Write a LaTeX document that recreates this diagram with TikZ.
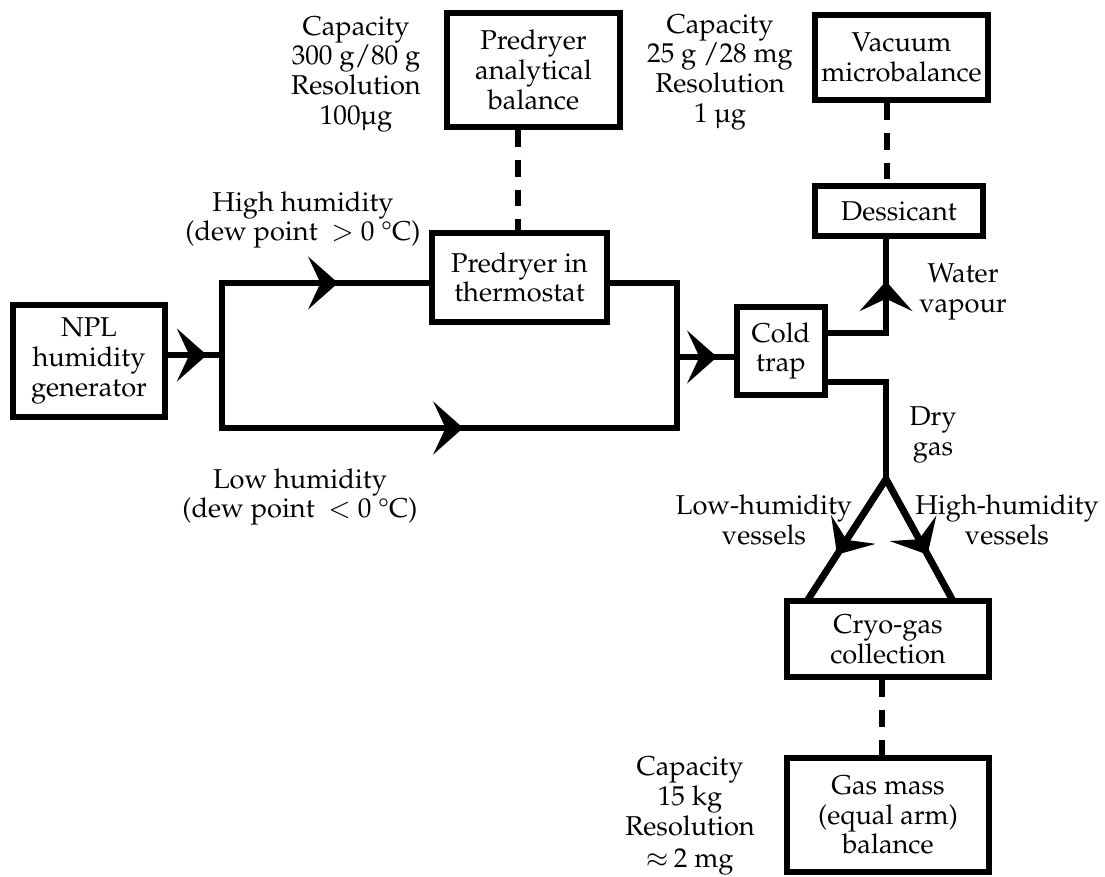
\documentclass[tikz,border=0pt]{standalone}
\usepackage[T1]{fontenc}
\usepackage{mathpazo}
\usetikzlibrary{arrows.meta,decorations.markings}
\begin{document}
\begin{tikzpicture}[x=0.02cm,y=-0.02cm,
  every node/.style={font=\fontsize{15.5}{16.9}\selectfont, inner sep=0pt, align=center},
  box/.style={draw, line width=3.2pt},
  flow/.style={line width=3.2pt, line cap=rect},
  tri/.style={line width=3.8pt},
  dashline/.style={line width=2.9pt, dash pattern=on 9.6pt off 7.4pt},
  midarrow/.style={postaction={decorate}, decoration={markings,
      mark=at position #1 with {\arrow{Stealth[length=17pt,width=30pt,inset=7pt]}}}}]
\useasboundingbox (0,0) rectangle (1105,876);

% boxes
\node[box, minimum width=3.04cm, minimum height=2.24cm] (npl) at (89,361) {NPL\\humidity\\generator};
\node[box, minimum width=3.46cm, minimum height=2.28cm] (anal) at (533.5,70) {Predryer\\analytical\\balance};
\node[box, minimum width=3.5cm, minimum height=1.78cm] (thermo) at (519.5,277.5) {Predryer in\\thermostat};
\node[box, minimum width=1.76cm, minimum height=1.76cm] (cold) at (781,351) {Cold\\trap};
\node[box, minimum width=3.46cm, minimum height=1.7cm] (vac) at (901.5,57.5) {Vacuum\\microbalance};
\node[box, minimum width=3.36cm, minimum height=1.0cm] (dess) at (899,211) {Dessicant};
\node[box, minimum width=4.04cm, minimum height=1.52cm] (cryo) at (888,639) {Cryo-gas\\collection};
\node[box, minimum width=4.04cm, minimum height=2.28cm] (gas) at (888,815) {Gas mass\\(equal arm)\\balance};

% labels
\node (capL) at (356,74) {Capacity\\300 g/80 g\\Resolution\\100\textmu g};
\node (capR) at (720,72) {Capacity\\25 g /28 mg\\Resolution\\1 \textmu g};
\node (capB) at (690,816) {Capacity\\15 kg\\Resolution\\[1.5pt]$\approx$\,2 mg};
\node (high) at (303,220) {High humidity\\(dew point~~$>$ 0 \textdegree C)};
\node (low) at (300,497) {Low humidity\\(dew point~~$<$ 0 \textdegree C)};
\node (water) at (963,292) {Water\\vapour};
\node (dry) at (933,435) {Dry\\gas};
\node (lowv) at (764,520) {Low-humidity\\vessels};
\node (highv) at (1007,520) {High-humidity\\vessels};

% coordinates
\coordinate (j) at (222,355);
\coordinate (jt) at (222,283);
\coordinate (jb) at (222,428);
\coordinate (mt) at (677,283);
\coordinate (mb) at (677,428);
\coordinate (mm) at (677,357);
\coordinate (wv) at (886,333);
\coordinate (dg) at (886,382);
\coordinate (apex) at (886,479);
\coordinate (tl) at (807,601);
\coordinate (tr) at (953,601);
\coordinate (dA) at (518,0);
\coordinate (dV) at (887,0);
\coordinate (dC) at (882,0);

% flow lines
\draw[flow, midarrow=0.72] (npl.east |- j) -- (j);
\draw[flow] (jt) -- (jb);
\draw[flow, midarrow=0.56] (jt) -- (thermo.west |- jt);
\draw[flow] (thermo.east |- mt) -- (mt) -- (mb);
\draw[flow, midarrow=0.53] (jb) -- (mb);
\draw[flow, midarrow=0.7] (mm) -- (cold.west |- mm);
\draw[flow] (cold.east |- wv) -- (wv);
\draw[flow, midarrow=0.55] (wv) -- (dess.south -| wv);
\draw[flow] (cold.east |- dg) -- (dg) -- (apex);
\draw[tri, line join=miter] (tl) -- (apex) -- (tr);
\draw[tri, midarrow=0.62] (apex) -- (tl);
\draw[tri, midarrow=0.62] (apex) -- (tr);

% dashed links
\draw[dashline] (anal.south -| dA) -- (thermo.north -| dA);
\draw[dashline] (vac.south -| dV) -- (dess.north -| dV);
\draw[dashline] (cryo.south -| dC) -- (gas.north -| dC);
\end{tikzpicture}
\end{document}
